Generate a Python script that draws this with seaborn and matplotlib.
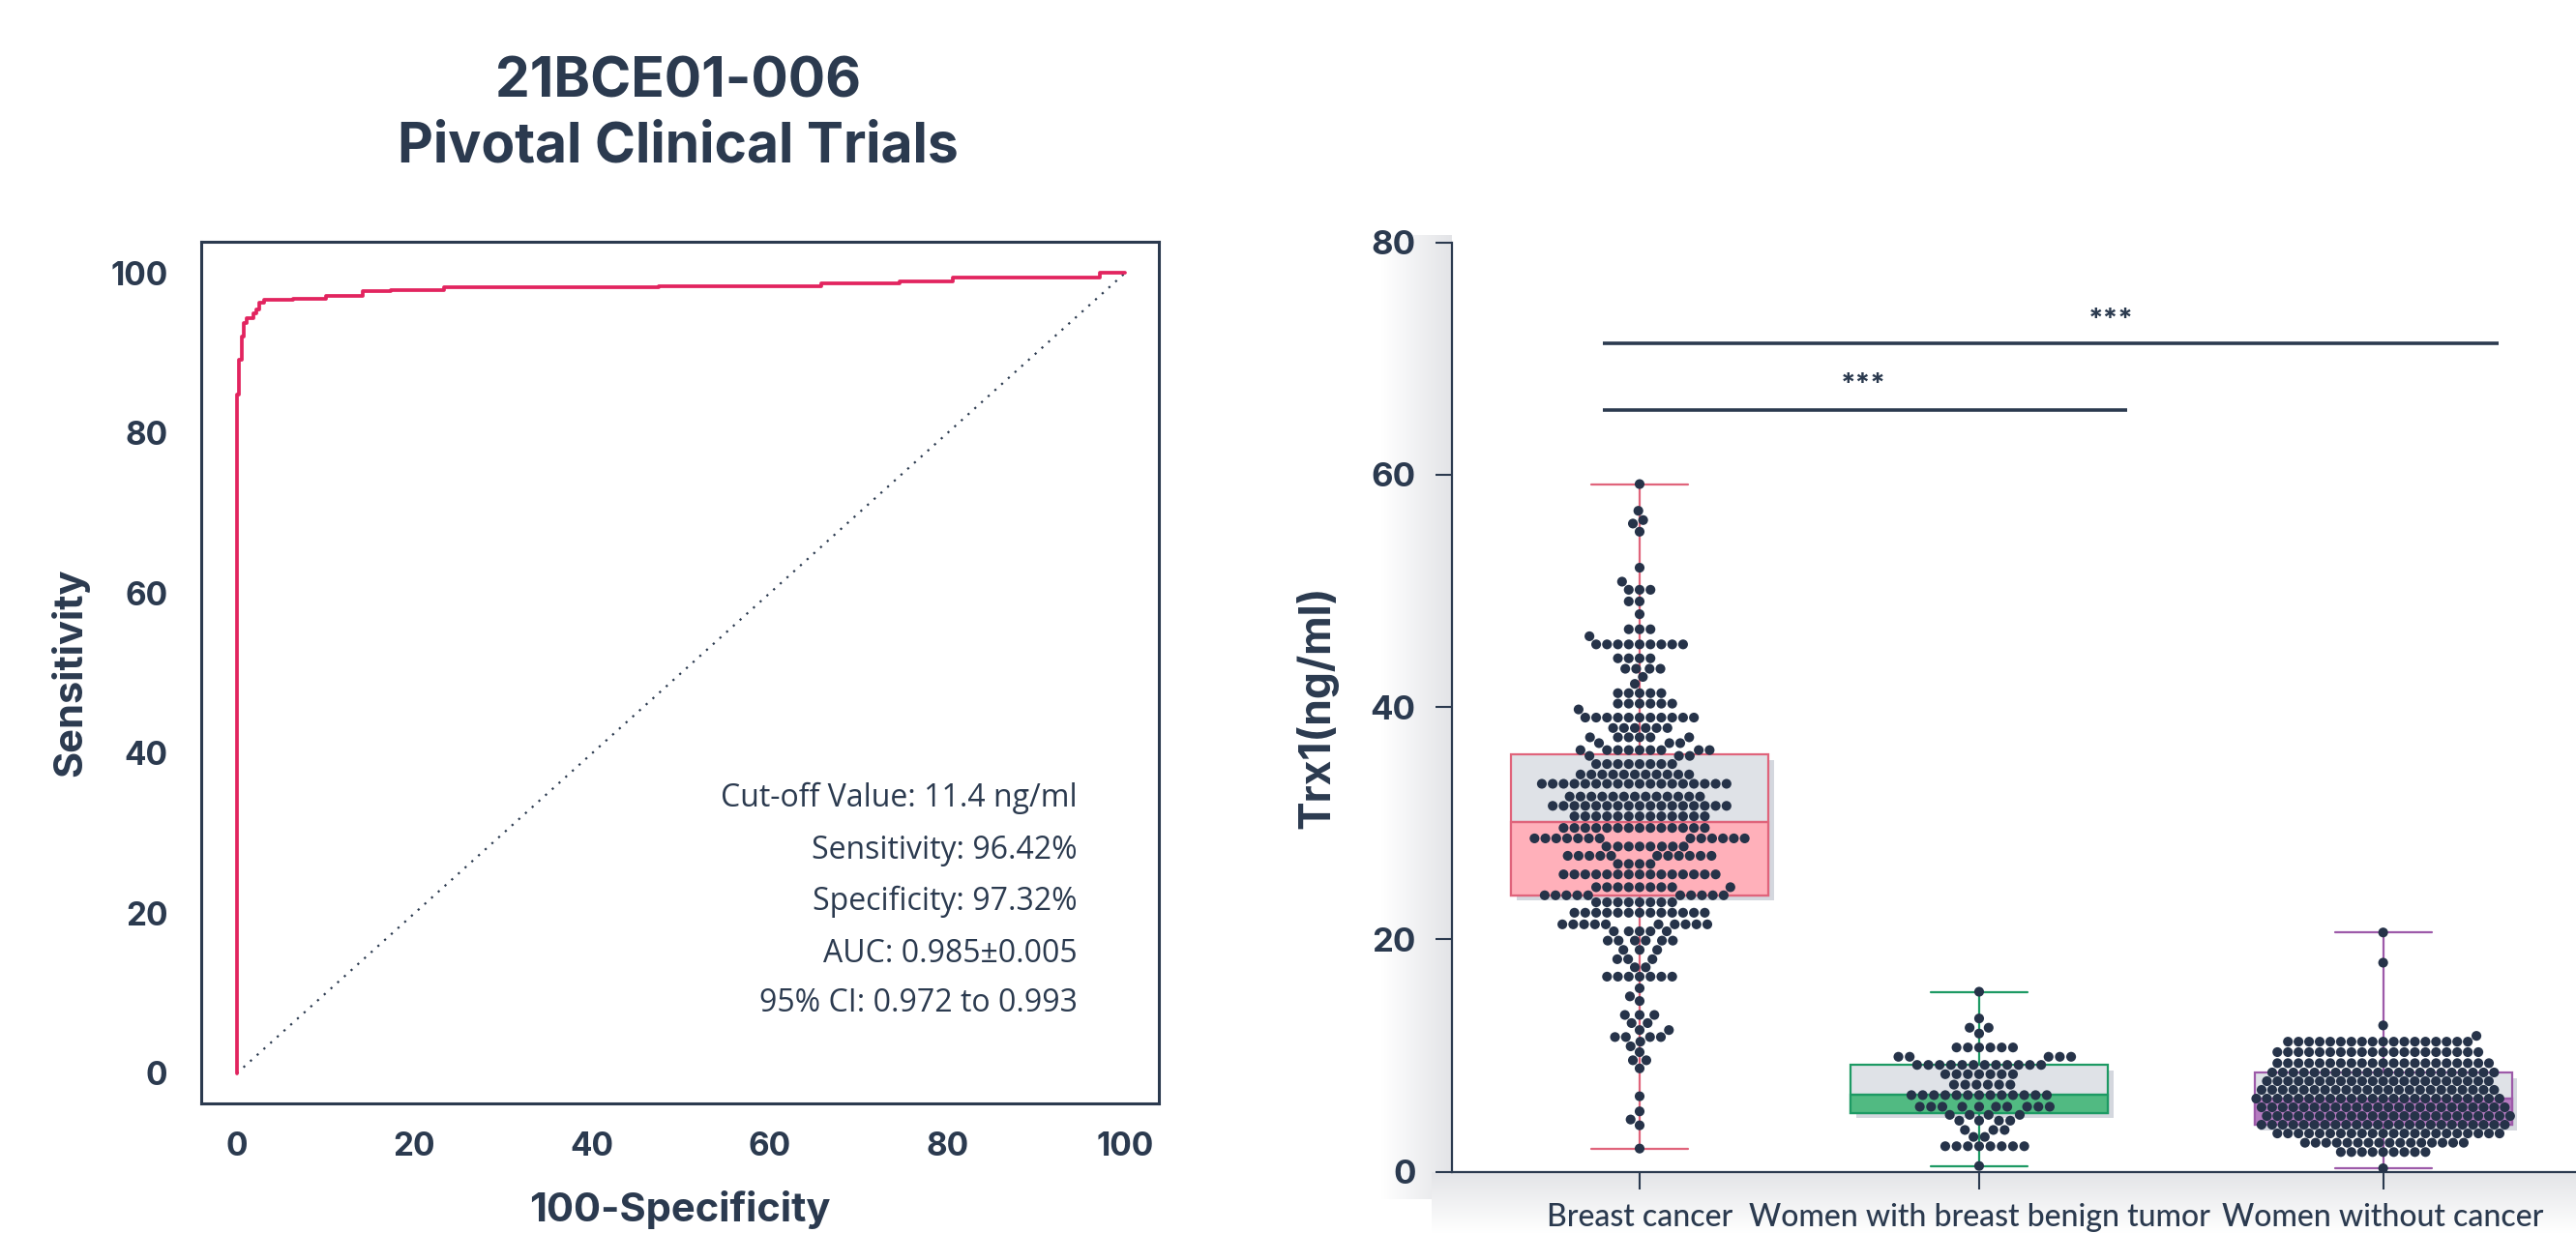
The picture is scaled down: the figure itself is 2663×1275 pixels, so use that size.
import numpy as np
import pandas as pd
import matplotlib
matplotlib.use("Agg")
import matplotlib.pyplot as plt
from matplotlib.ticker import MultipleLocator
from matplotlib.patches import Rectangle
from matplotlib import patheffects as pe
from matplotlib.colors import LinearSegmentedColormap
import seaborn as sns

# ---------------- data ----------------
# ROC curve corners: 100-Specificity (%) and Sensitivity (%)
roc_fpr = [0.0, 0.0, 0.3, 0.55, 0.8, 1.1, 1.9, 2.2, 2.5, 3.1, 6.3, 10.1, 14.2,
           17.3, 23.3, 47.5, 65.8, 74.6, 80.6, 97.2, 100.0]
roc_tpr = [0.0, 84.8, 89.1, 92.0, 93.7, 94.3, 94.9, 95.4, 96.3, 96.6, 96.8, 97.1,
           97.7, 97.9, 98.2, 98.4, 98.7, 99.0, 99.4, 100.0, 100.0]
chance_x = [0, 100]
chance_y = [0, 100]
roc_notes = ["Cut-off Value: 11.4 ng/ml", "Sensitivity: 96.42%",
             "Specificity: 97.32%", "AUC: 0.985\u00b10.005", "95% CI: 0.972 to 0.993"]

groups = ["Breast cancer", "Women with breast benign tumor", "Women without cancer"]

# Trx1 (ng/ml) levels and the number of subjects found at each level
breast_levels = [59.2, 56.9, 56.1, 55.8, 55.1, 52.0, 50.8, 50.1, 49.1, 48.0, 46.7,
                 46.1, 45.4, 44.2, 43.3, 42.6, 42.0, 41.2, 40.3, 39.8, 39.1, 38.2,
                 37.4, 36.9, 36.3, 35.8,
                 35.1, 34.2, 33.4, 32.3, 31.5, 30.6,
                 29.6, 28.7, 28.0, 27.2, 26.5, 25.6, 24.5, 23.8,
                 23.2, 22.3, 21.3, 20.7, 19.9, 19.1, 18.3, 17.6, 16.8, 15.8, 15.1,
                 14.7, 13.5, 12.8, 12.2, 11.6, 11.2, 10.8, 10.3, 9.6, 8.9, 6.5, 5.2,
                 4.5, 4.0, 2.0]
breast_counts = [1, 1, 1, 1, 1, 1, 1, 3, 2, 1, 3,
                 1, 9, 4, 4, 1, 1, 5, 6, 1, 11, 6,
                 6, 3, 9, 3,
                 8, 11, 18, 13, 17, 13,
                 14, 13, 8, 11, 4, 15, 9, 10,
                 8, 13, 10, 5, 6, 3, 3, 2, 7, 1, 1,
                 1, 3, 2, 2, 4, 1, 1, 1, 2, 1, 1, 1,
                 1, 1, 1]

benign_levels = [15.5, 13.2, 12.4, 11.9, 10.7, 9.9, 9.2, 8.4, 7.5, 6.6, 5.6, 4.9,
                 4.4, 3.6, 3.0, 2.2, 0.5]
benign_counts = [1, 1, 2, 1, 6, 5, 12, 7, 6, 13, 10, 4,
                 4, 3, 2, 8, 1]

healthy_levels = [20.6, 18.0, 12.6, 11.7, 11.2, 10.3, 9.35, 8.55, 7.8, 7.05, 6.3,
                  5.55, 4.8, 4.05, 3.3, 2.5, 1.7, 0.3]
healthy_counts = [1, 1, 1, 1, 18, 20, 21, 22, 22, 23, 24,
                  24, 24, 24, 22, 16, 9, 1]

# ---------------- style ----------------
NAVY = "#2b3a4f"
DOT = "#263349"
ROC_RED = "#e2245f"
UPPER_GRAY = "#dfe2e7"
LOWER_FILL = ["#ffb0ba", "#51ba82", "#b57bc0"]
EDGE = ["#e0647b", "#1d9a64", "#9d5aa9"]
DOT_GAP = [0.4, 0.7, 0.2]
group_x = [0.0, 1.0, 2.19]
BOX_WIDTH = 0.758
CAP_HALF = 0.1425
HEAD = ["Inter", "Lato", "DejaVu Sans"]

sns.set_style("white")
plt.rcParams["font.family"] = ["Lato", "DejaVu Sans"]
plt.rcParams["text.color"] = NAVY
plt.rcParams["axes.labelcolor"] = NAVY
plt.rcParams["xtick.color"] = NAVY
plt.rcParams["ytick.color"] = NAVY

W, H = 2663, 1275
fig = plt.figure(figsize=(W / 100, H / 100), dpi=100)


def px_box(left, top, right, bottom):
    return [left / W, 1 - bottom / H, (right - left) / W, (bottom - top) / H]


# soft shadows around the right-hand axes
shade = fig.add_axes([0, 0, 1, 1], zorder=-10)
ramp = np.linspace(0.0, 1.0, 128)
shade_cmap = LinearSegmentedColormap.from_list("shade", ["#ffffff", "#e3e4e7"])
shade.imshow(ramp[None, :], cmap=shade_cmap, extent=(1428, 1501, 1240, 243),
             aspect="auto", interpolation="bilinear")
shade.imshow(ramp[::-1][:, None], cmap=shade_cmap, extent=(1480, 2663, 1275, 1212),
             aspect="auto", interpolation="bilinear")
shade.set_xlim(0, W)
shade.set_ylim(H, 0)
shade.axis("off")

# ---------------- ROC panel ----------------
ax_roc = fig.add_axes(px_box(208, 250, 1198, 1141))
roc = pd.DataFrame({"fpr": roc_fpr, "tpr": roc_tpr})
sns.lineplot(data=roc, x="fpr", y="tpr", sort=False, estimator=None,
             drawstyle="steps-post", color=ROC_RED, lw=2.7, ax=ax_roc, zorder=3)
sns.lineplot(x=chance_x, y=chance_y, color=NAVY, lw=1.6,
             linestyle=(0, (1, 3.2)), ax=ax_roc, zorder=2)

ax_roc.set_xlim(-4.0, 103.8)
ax_roc.set_ylim(-3.75, 103.9)
roc_ticks = [0, 20, 40, 60, 80, 100]
ax_roc.set_xticks(roc_ticks, labels=[str(t) for t in roc_ticks],
                  fontsize=24, fontweight="bold", family=HEAD)
ax_roc.set_yticks(roc_ticks, labels=[str(t) for t in roc_ticks],
                  fontsize=24, fontweight="bold", family=HEAD)
ax_roc.xaxis.set_minor_locator(MultipleLocator(5))
ax_roc.yaxis.set_minor_locator(MultipleLocator(5))
ax_roc.tick_params(axis="x", which="major", direction="in", length=20, width=1.6, pad=21)
ax_roc.tick_params(axis="x", which="minor", direction="in", length=11, width=1.6)
ax_roc.tick_params(axis="y", which="major", direction="in", length=23, width=1.6, pad=25)
ax_roc.tick_params(axis="y", which="minor", direction="in", length=12, width=1.6)
ax_roc.tick_params(top=False, right=False, which="both")
for sp in ax_roc.spines.values():
    sp.set_visible(True)
    sp.set_color(NAVY)
    sp.set_linewidth(2.2)
ax_roc.set_xlabel("100-Specificity", fontsize=30, fontweight="bold", family=HEAD,
                  labelpad=21)
ax_roc.set_ylabel("Sensitivity", fontsize=30, fontweight="bold", family=HEAD,
                  labelpad=16)

note_y = [34.4, 27.8, 21.4, 14.9, 8.7]
for txt, yy in zip(roc_notes, note_y):
    ax_roc.text(94.6, yy, txt, ha="right", va="center", fontsize=23,
                family=["Open Sans", "DejaVu Sans"], color=NAVY)

fig.text(701 / W, 1 - 119 / H, "21BCE01-006\nPivotal Clinical Trials",
         ha="center", va="center", fontsize=41, fontweight="bold", family=HEAD,
         linespacing=1.32, color=NAVY)

# ---------------- Trx1 panel ----------------
ax_box = fig.add_axes(px_box(1501, 250.7, 2663, 1211.7))
ax_box.patch.set_alpha(0)

frames = []
for g, lv, ct in zip(groups,
                     [breast_levels, benign_levels, healthy_levels],
                     [breast_counts, benign_counts, healthy_counts]):
    frames.append(pd.DataFrame({"group": g, "value": np.repeat(lv, ct)}))
df = pd.concat(frames, ignore_index=True)
df["pos"] = df["group"].map(dict(zip(groups, group_x)))

for i, g in enumerate(groups):
    sub = df[df["group"] == g]
    n_lines = len(ax_box.lines)
    n_patches = len(ax_box.patches)
    sns.boxplot(data=sub, x="pos", y="value", native_scale=True, orient="x",
                width=BOX_WIDTH, whis=(0, 100), showfliers=False,
                color=UPPER_GRAY, linecolor=EDGE[i], linewidth=1.6,
                saturation=1, ax=ax_box)
    box = ax_box.patches[n_patches]
    box.set_path_effects([pe.SimplePatchShadow(offset=(4, -4), shadow_rgbFace="#d4d7de",
                                               alpha=1.0), pe.Normal()])
    new_lines = ax_box.lines[n_lines:]
    lo, hi = sub["value"].min(), sub["value"].max()
    for ln in new_lines:
        yd = np.asarray(ln.get_ydata(), dtype=float)
        xd = np.asarray(ln.get_xdata(), dtype=float)
        if len(yd) == 2 and yd[0] == yd[1] and (np.isclose(yd[0], lo) or np.isclose(yd[0], hi)):
            c = xd.mean()
            ln.set_xdata([c - CAP_HALF, c + CAP_HALF])
    q1, med = np.percentile(sub["value"], [25, 50])
    ax_box.add_patch(Rectangle((group_x[i] - BOX_WIDTH / 2, q1), BOX_WIDTH, med - q1,
                               facecolor=LOWER_FILL[i], edgecolor=EDGE[i], lw=1.6,
                               zorder=box.get_zorder() + 0.01))

# individual subjects; an invisible edge keeps a small gap between dots
for i, g in enumerate(groups):
    sub = df[df["group"] == g]
    sns.swarmplot(data=sub, x="pos", y="value", native_scale=True, orient="x",
                  size=7.3, color=DOT, edgecolor="none", linewidth=DOT_GAP[i],
                  zorder=3, ax=ax_box)

# significance brackets
for x0, x1, yy, sx, sy in [(-0.108, 1.436, 65.6, 0.658, 67.7),
                           (-0.108, 2.53, 71.3, 1.387, 73.3)]:
    ax_box.plot([x0, x1], [yy, yy], color=NAVY, lw=2.6, solid_capstyle="butt")
    ax_box.text(sx, sy, "***", ha="center", va="center", fontsize=20,
                fontweight="bold", family=HEAD, color=NAVY)

ax_box.set_xlim(-0.5527, 2.758)
ax_box.set_ylim(0, 80)
ax_box.set_yticks([0, 20, 40, 60, 80], labels=["0", "20", "40", "60", "80"],
                  fontsize=25, fontweight="bold", family=HEAD)
ax_box.set_xticks(group_x, labels=groups, fontsize=23, fontweight="medium")
ax_box.tick_params(axis="y", direction="out", length=12, width=1.5, pad=15, left=True)
ax_box.tick_params(axis="x", direction="out", length=13, width=1.5, pad=10, bottom=True)
for side in ["top", "right"]:
    ax_box.spines[side].set_visible(False)
for side in ["left", "bottom"]:
    ax_box.spines[side].set_visible(True)
    ax_box.spines[side].set_color(NAVY)
    ax_box.spines[side].set_linewidth(1.6)
ax_box.set_xlabel("")
ax_box.set_ylabel("Trx1(ng/ml)", fontsize=32, fontweight="bold", family=HEAD,
                  labelpad=24)

fig.savefig("out.png", dpi=100, facecolor="white")
